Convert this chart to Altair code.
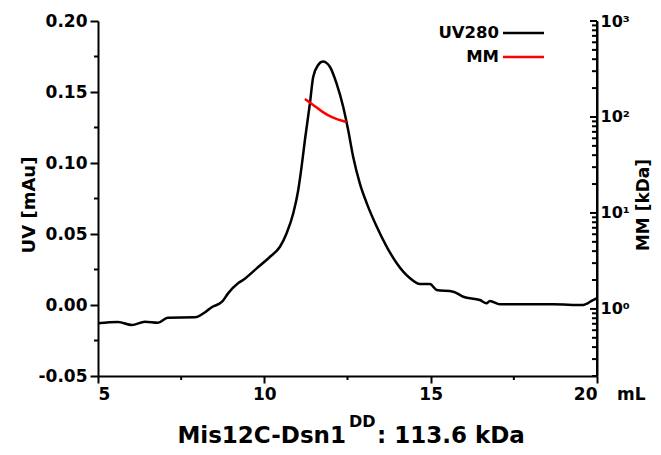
import altair as alt
import pandas as pd

# ---------------- data ----------------
volume_uv = [5.0, 5.6, 6.02, 6.41, 6.8, 7.1, 7.92, 8.22, 8.43, 8.73, 8.91, 9.21, 9.36,
             9.77, 10.17, 10.47, 10.67, 10.87, 11.02, 11.12, 11.22, 11.37, 11.47, 11.62,
             11.7, 11.77, 11.85, 11.97, 12.17, 12.37, 12.52, 12.67, 12.87, 13.08, 13.38,
             13.68, 13.98, 14.38, 14.68, 14.98, 15.18, 15.68, 15.98, 16.48, 16.68, 16.78,
             17.08, 17.68, 18.68, 19.58, 19.88, 20.0]
uv_values = [-0.0129, -0.0120, -0.0141, -0.0118, -0.0125, -0.0089, -0.0087, -0.0051,
             -0.0014, 0.0023, 0.0082, 0.0153, 0.0176, 0.0258, 0.0340, 0.0410, 0.0505,
             0.0646, 0.0810, 0.0974, 0.1162, 0.1420, 0.1607, 0.1690, 0.1710, 0.1715,
             0.1708, 0.1678, 0.1561, 0.1396, 0.1232, 0.1044, 0.0857, 0.0716, 0.0551,
             0.0410, 0.0294, 0.0188, 0.0148, 0.0148, 0.0106, 0.0094, 0.0058, 0.0035,
             0.0012, 0.0028, 0.0005, 0.0005, 0.0005, 0.0, 0.0035, 0.0049]

volume_mm = [11.22, 11.45, 11.75, 12.05, 12.47]
mm_values = [154, 135, 113, 98.8, 88.7]

x_ticks = [5, 10, 15, 20]
x_minor = [7.5, 12.5, 17.5]
uv_ticks = [-0.05, 0.0, 0.05, 0.10, 0.15, 0.20]
uv_minor = [-0.025, 0.025, 0.075, 0.125, 0.175]
mm_major = [1, 10, 100, 1000]
mm_minor = [0.2, 0.3, 0.4, 0.5, 0.6, 0.7, 0.8, 0.9,
            2, 3, 4, 5, 6, 7, 8, 9,
            20, 30, 40, 50, 60, 70, 80, 90,
            200, 300, 400, 500, 600, 700, 800, 900]

legend_labels = ["UV280", "MM"]
legend_colors = ["black", "red"]

W, H = 499, 355
FONT = "DejaVu Sans"

df_uv = pd.DataFrame({"volume": volume_uv, "uv": uv_values})
df_mm = pd.DataFrame({"volume": volume_mm, "mm": mm_values})

x_scale = alt.Scale(domain=[5, 20], nice=False, zero=False)
uv_scale = alt.Scale(domain=[-0.05, 0.2], nice=False, zero=False)
mm_scale = alt.Scale(type="log", domain=[0.2, 1000], nice=False)

one = pd.DataFrame({"a": [0]})

uv_line = alt.Chart(df_uv).mark_line(color="black", strokeWidth=2.5,
                                       interpolate="monotone").encode(
    x=alt.X("volume:Q", scale=x_scale,
            axis=alt.Axis(values=x_ticks, title=None, tickSize=7, labelPadding=3,
                          format="d")),
    y=alt.Y("uv:Q", scale=uv_scale,
            axis=alt.Axis(values=uv_ticks, format=".2f", title=None, orient="left",
                          tickSize=8, labelPadding=3,
                          labelExpr="replace(datum.label, '\u2212', '-')")),
)

mm_line = alt.Chart(df_mm).mark_line(color="red", strokeWidth=2.5,
                                       interpolate="monotone").encode(
    x=alt.X("volume:Q", scale=x_scale),
    y=alt.Y("mm:Q", scale=mm_scale,
            axis=alt.Axis(values=mm_major, orient="right", title=None, tickSize=0,
                          labelPadding=3, labelFontSize=16,
                          labelExpr="datum.value == 1 ? '10\u2070' : datum.value == 10 ? '10\u00b9' : datum.value == 100 ? '10\u00b2' : '10\u00b3'")),
)

# minor ticks (drawn via the same scales)
left_minor = alt.Chart(pd.DataFrame({"v": uv_minor})).mark_rule(
    color="black", strokeWidth=2).encode(
    y=alt.Y("v:Q", scale=uv_scale, axis=None), x=alt.value(-4), x2=alt.value(0))
bottom_minor = alt.Chart(pd.DataFrame({"v": x_minor})).mark_rule(
    color="black", strokeWidth=2).encode(
    x=alt.X("v:Q", scale=x_scale), y=alt.value(H), y2=alt.value(H + 4))
right_major = alt.Chart(pd.DataFrame({"v": mm_major})).mark_rule(
    color="black", strokeWidth=2).encode(
    y=alt.Y("v:Q", scale=mm_scale, axis=None), x=alt.value(W - 7), x2=alt.value(W))
right_minor = alt.Chart(pd.DataFrame({"v": mm_minor})).mark_rule(
    color="black", strokeWidth=2).encode(
    y=alt.Y("v:Q", scale=mm_scale, axis=None), x=alt.value(W - 5), x2=alt.value(W))
right_line = alt.Chart(one).mark_rule(color="black", strokeWidth=2).encode(
    x=alt.value(W), y=alt.value(0), y2=alt.value(H))

def text(t, x, y, size=17, align="center", angle=0, baseline="alphabetic"):
    return alt.Chart(one).mark_text(
        text=t, font=FONT, fontWeight="bold", fontSize=size, align=align,
        angle=angle, baseline=baseline, color="black").encode(
        x=alt.value(x), y=alt.value(y))

# legend (labels to the left of their line samples)
legend = []
for i, (lab, col) in enumerate(zip(legend_labels, legend_colors)):
    yy = 12 + 24 * i
    legend.append(text(lab, 401, yy + 5, size=16.5, align="right"))
    legend.append(alt.Chart(one).mark_rule(color=col, strokeWidth=2.5).encode(
        x=alt.value(405), x2=alt.value(446), y=alt.value(yy)))

titles = [
    text("UV [mAu]", -68, 184, size=18, angle=270, baseline="middle"),
    text("MM [kDa]", 546, 184, size=17, angle=270, baseline="middle"),
    text("mL", 519, 379, size=17, align="left"),
    text("Mis12C-Dsn1", 248, 422, size=23, align="right"),
    text("DD", 251, 406, size=16, align="left"),
    text(": 113.6 kDa", 279, 422, size=23, align="left"),
]

chart = alt.layer(
    uv_line, mm_line, left_minor, bottom_minor, right_major, right_minor, right_line,
    *legend, *titles
).resolve_scale(y="independent").properties(
    width=W, height=H,
    autosize=alt.AutoSizeParams(type="none"),
    padding={"left": 90, "top": 13, "right": 56, "bottom": 71},
).configure_view(stroke=None).configure_axis(
    domainColor="black", domainWidth=2, tickColor="black", tickWidth=2,
    labelFont=FONT, labelFontWeight="bold", labelFontSize=17, labelColor="black",
    grid=False,
)

chart.save("out.html", embed_options={"renderer": "svg", "actions": False})
